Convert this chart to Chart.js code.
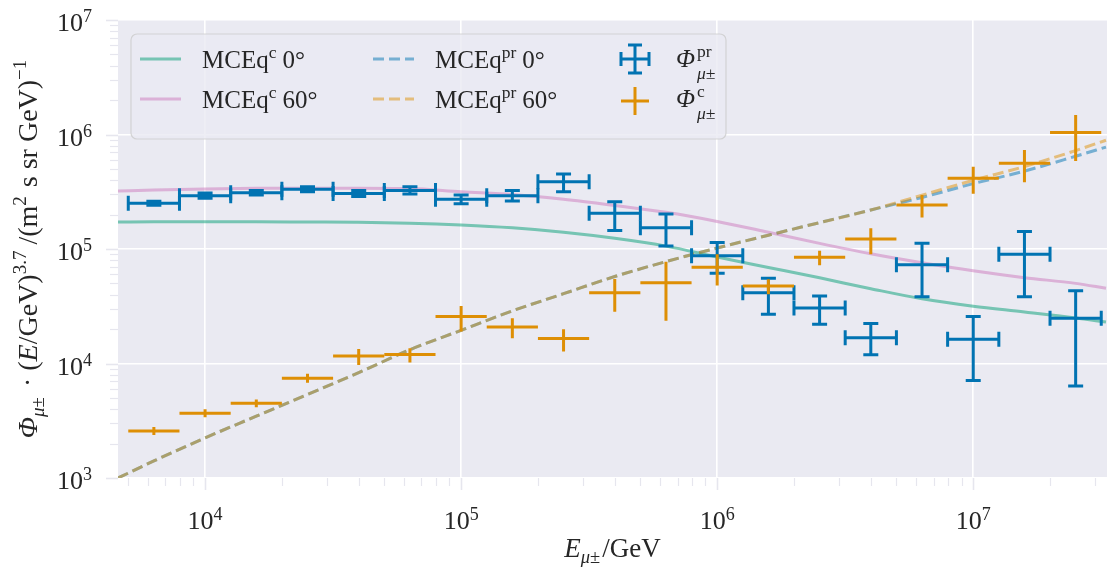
<!DOCTYPE html>
<html>
<head>
<meta charset="utf-8">
<script src="https://cdn.jsdelivr.net/npm/chart.js@4.4.0/dist/chart.umd.min.js"></script>
<style>
    html, body { margin: 0; padding: 0; background: #ffffff; }
</style>
</head>
<body>
<canvas id="chart" width="1107" height="571"></canvas>
<script>
// model curves, sampled every 0.2 decades
const energyGrid = [4570, 6310, 1.0e4, 1.585e4, 2.512e4, 3.981e4, 6.31e4, 1.0e5, 1.585e5, 2.512e5, 3.981e5,
    6.31e5, 1.0e6, 1.585e6, 2.512e6, 3.981e6, 6.31e6, 1.0e7, 1.585e7, 2.512e7, 3.3e7];
const mceqConv0 = [1.72e5, 1.73e5, 1.73e5, 1.73e5, 1.72e5, 1.71e5, 1.68e5, 1.62e5, 1.53e5, 1.40e5, 1.24e5,
    1.06e5, 8.5e4, 6.9e4, 5.6e4, 4.5e4, 3.67e4, 3.16e4, 2.82e4, 2.5e4, 2.3e4];
const mceqConv60 = [3.21e5, 3.27e5, 3.35e5, 3.39e5, 3.40e5, 3.40e5, 3.37e5, 3.16e5, 2.99e5, 2.72e5, 2.40e5,
    2.09e5, 1.74e5, 1.40e5, 1.12e5, 9.1e4, 7.6e4, 6.46e4, 5.62e4, 5.01e4, 4.54e4];
const mceqPrompt0 = [1.0e3, 1.41e3, 2.24e3, 3.47e3, 5.37e3, 8.32e3, 1.32e4, 1.95e4, 2.88e4, 4.07e4, 5.75e4,
    7.76e4, 1.02e5, 1.32e5, 1.70e5, 2.19e5, 2.82e5, 3.72e5, 4.79e5, 6.46e5, 7.76e5];
const mceqPrompt60 = [1.0e3, 1.41e3, 2.24e3, 3.47e3, 5.37e3, 8.32e3, 1.32e4, 1.95e4, 2.88e4, 4.07e4, 5.75e4,
    7.76e4, 1.02e5, 1.32e5, 1.70e5, 2.19e5, 2.95e5, 3.98e5, 5.25e5, 7.24e5, 8.91e5];

// unfolded data, 5 bins per decade
const binCenters = [6310, 1.0e4, 1.585e4, 2.512e4, 3.981e4, 6.31e4, 1.0e5, 1.585e5, 2.512e5, 3.981e5, 6.31e5,
    1.0e6, 1.585e6, 2.512e6, 3.981e6, 6.31e6, 1.0e7, 1.585e7, 2.512e7];
const binEdges = [5012, 7943, 1.259e4, 1.995e4, 3.162e4, 5.012e4, 7.943e4, 1.259e5, 1.995e5, 3.162e5, 5.012e5,
    7.943e5, 1.259e6, 1.995e6, 3.162e6, 5.012e6, 7.943e6, 1.259e7, 1.995e7, 3.162e7];

const promptFlux = [2.51e5, 2.92e5, 3.10e5, 3.32e5, 3.06e5, 3.25e5, 2.72e5, 2.92e5, 3.87e5, 2.05e5, 1.53e5,
    8.75e4, 4.15e4, 3.05e4, 1.68e4, 7.3e4, 1.63e4, 9.0e4, 2.48e4];
const promptLow = [2.41e5, 2.78e5, 2.96e5, 3.16e5, 2.88e5, 3.02e5, 2.49e5, 2.63e5, 3.16e5, 1.45e5, 1.06e5,
    6.14e4, 2.69e4, 2.2e4, 1.19e4, 3.83e4, 7.1e3, 3.83e4, 6.36e3];
const promptHigh = [2.61e5, 3.08e5, 3.25e5, 3.49e5, 3.25e5, 3.50e5, 2.96e5, 3.25e5, 4.52e5, 2.59e5, 2.02e5,
    1.14e5, 5.54e4, 3.89e4, 2.24e4, 1.12e5, 2.57e4, 1.42e5, 4.32e4];

const convFlux = [2.57e3, 3.67e3, 4.49e3, 7.43e3, 1.16e4, 1.2e4, 2.57e4, 2.08e4, 1.65e4, 4.15e4, 5.08e4,
    6.92e4, 4.75e4, 8.46e4, 1.22e5, 2.42e5, 4.14e5, 5.6e5, 1.04e6];
const convLow = [2.37e3, 3.39e3, 4.14e3, 6.79e3, 9.7e3, 1.02e4, 1.9e4, 1.66e4, 1.27e4, 2.83e4, 2.36e4,
    4.79e4, 4.02e4, 7.2e4, 9.0e4, 1.88e5, 3.04e5, 3.83e5, 5.88e5];
const convHigh = [2.79e3, 3.98e3, 4.86e3, 8.13e3, 1.34e4, 1.36e4, 3.18e4, 2.48e4, 1.99e4, 5.47e4, 7.74e4,
    9.0e4, 5.44e4, 9.66e4, 1.52e5, 2.96e5, 5.24e5, 7.33e5, 1.48e6];

const xTicks = [1e4, 1e5, 1e6, 1e7];
const yTicks = [1e3, 1e4, 1e5, 1e6, 1e7];

const FONT = '"Liberation Serif", "Times New Roman", serif';
const TEXT = '#262626';

function curve(values, color, dash, order) {
    return {
        data: energyGrid.map((e, i) => ({ x: e, y: values[i] })),
        showLine: true,
        borderColor: color,
        borderWidth: 3,
        borderDash: dash,
        pointRadius: 0,
        cubicInterpolationMode: 'monotone',
        order: order
    };
}

function points(flux, low, high, color, cap) {
    return {
        data: binCenters.map((e, i) => ({
            x: e, y: flux[i], xMin: binEdges[i], xMax: binEdges[i + 1], yMin: low[i], yMax: high[i]
        })),
        showLine: false,
        pointRadius: 0,
        errorColor: color,
        capSize: cap,
        order: 0
    };
}

// draws text pieces with sub/superscripts, returns width
function richText(ctx, parts, x, y, align) {
    let width = 0;
    const widths = parts.map(p => {
        let w;
        if (p.stack) {
            w = Math.max(...p.stack.map(s => { ctx.font = fontOf(s); return ctx.measureText(s.t).width; }));
        } else {
            ctx.font = fontOf(p);
            w = ctx.measureText(p.t).width + (p.gap || 0);
        }
        width += w;
        return w;
    });
    let cx = align === 'center' ? x - width / 2 : align === 'right' ? x - width : x;
    parts.forEach((p, i) => {
        (p.stack || [p]).forEach(s => {
            ctx.font = fontOf(s);
            ctx.fillText(s.t, cx, y + (s.dy || 0));
        });
        cx += widths[i];
    });
    return width;
}

function fontOf(p) {
    return (p.italic ? 'italic ' : '') + (p.size || 25) + 'px ' + FONT;
}

function tenPower(exp) {
    return [{ t: '10', size: 26 }, { t: String(exp), size: 18, dy: -9 }];
}

const plotBackground = {
    id: 'plotBackground',
    beforeDraw(chart) {
        const { ctx, chartArea } = chart;
        ctx.save();
        ctx.fillStyle = '#eaeaf2';
        ctx.fillRect(chartArea.left, chartArea.top, chartArea.right - chartArea.left, chartArea.bottom - chartArea.top);
        ctx.restore();
    }
};

const errorBars = {
    id: 'errorBars',
    afterDatasetsDraw(chart) {
        const { ctx, chartArea } = chart;
        const xs = chart.scales.x, ys = chart.scales.y;
        ctx.save();
        ctx.beginPath();
        ctx.rect(chartArea.left, chartArea.top, chartArea.right - chartArea.left, chartArea.bottom - chartArea.top);
        ctx.clip();
        ctx.lineWidth = 3;
        ctx.lineCap = 'butt';
        chart.data.datasets.forEach(ds => {
            if (!ds.errorColor) return;
            ctx.strokeStyle = ds.errorColor;
            ds.data.forEach(d => {
                const px = xs.getPixelForValue(d.x), py = ys.getPixelForValue(d.y);
                const x0 = xs.getPixelForValue(d.xMin), x1 = xs.getPixelForValue(d.xMax);
                const y0 = ys.getPixelForValue(d.yMin), y1 = ys.getPixelForValue(d.yMax);
                const c = ds.capSize;
                ctx.beginPath();
                ctx.moveTo(x0, py); ctx.lineTo(x1, py);
                ctx.moveTo(px, y0); ctx.lineTo(px, y1);
                if (c > 0) {
                    ctx.moveTo(x0, py - c); ctx.lineTo(x0, py + c);
                    ctx.moveTo(x1, py - c); ctx.lineTo(x1, py + c);
                    ctx.moveTo(px - c, y0); ctx.lineTo(px + c, y0);
                    ctx.moveTo(px - c, y1); ctx.lineTo(px + c, y1);
                }
                ctx.stroke();
            });
        });
        ctx.restore();
    }
};

const axesText = {
    id: 'axesText',
    afterDraw(chart) {
        const { ctx, chartArea } = chart;
        const xs = chart.scales.x, ys = chart.scales.y;
        ctx.save();

        // faint outward tick marks
        ctx.strokeStyle = '#e6e6ee';
        for (let d = 3; d <= 7; d++) {
            for (let m = 1; m <= 9; m++) {
                const v = m * Math.pow(10, d);
                const len = m === 1 ? 12 : 8;
                ctx.lineWidth = m === 1 ? 1.6 : 1.2;
                if (v >= ys.min && v <= ys.max) {
                    const py = Math.round(ys.getPixelForValue(v)) + 0.5;
                    ctx.beginPath(); ctx.moveTo(chartArea.left - len, py); ctx.lineTo(chartArea.left, py); ctx.stroke();
                }
                if (v >= xs.min && v <= xs.max) {
                    const px = Math.round(xs.getPixelForValue(v)) + 0.5;
                    ctx.beginPath(); ctx.moveTo(px, chartArea.bottom); ctx.lineTo(px, chartArea.bottom + len); ctx.stroke();
                }
            }
        }

        ctx.fillStyle = TEXT;
        ctx.textBaseline = 'alphabetic';
        yTicks.forEach(v => {
            richText(ctx, tenPower(Math.round(Math.log10(v))), 92, ys.getPixelForValue(v) + 11, 'right');
        });
        xTicks.forEach(v => {
            richText(ctx, tenPower(Math.round(Math.log10(v))), xs.getPixelForValue(v), 529, 'center');
        });

        // x axis title
        richText(ctx, [
            { t: 'E', italic: true, size: 27 },
            { t: 'μ', italic: true, size: 18.5, dy: 6 },
            { t: '±', size: 18.5, dy: 6, gap: 2 },
            { t: '/GeV', size: 27 }
        ], (chartArea.left + chartArea.right) / 2, 557, 'center');

        // y axis title
        ctx.save();
        ctx.translate(37, (chartArea.top + chartArea.bottom) / 2);
        ctx.rotate(-Math.PI / 2);
        richText(ctx, [
            { t: 'Φ', italic: true, size: 28 },
            { t: 'μ', italic: true, size: 19, dy: 7 },
            { t: '±', size: 19, dy: 7, gap: 3 },
            { t: ' · (', size: 28 },
            { t: 'E', italic: true, size: 28 },
            { t: '/GeV)', size: 28 },
            { t: '3.7', size: 19, dy: -11, gap: 6 },
            { t: '/(m', size: 28 },
            { t: '2', size: 19, dy: -11, gap: 2 },
            { t: ' s sr GeV)', size: 28 },
            { t: '−1', size: 19, dy: -11 }
        ], 0, 0, 'center');
        ctx.restore();

        ctx.restore();
    }
};

const legendBox = {
    id: 'legendBox',
    afterDraw(chart) {
        const { ctx } = chart;
        ctx.save();
        ctx.beginPath();
        ctx.roundRect(131, 34, 595, 105, 6);
        ctx.fillStyle = 'rgba(234,234,242,0.8)';
        ctx.fill();
        ctx.strokeStyle = 'rgba(204,204,204,0.8)';
        ctx.lineWidth = 1.2;
        ctx.stroke();

        const rows = [59, 99];
        const lineEntries = [
            { x: 140, row: 0, color: 'rgba(2,158,115,0.5)', dash: [], label: [{ t: 'MCEq' }, { t: 'c', size: 17.5, dy: -10, gap: 6 }, { t: '0°' }] },
            { x: 140, row: 1, color: 'rgba(204,120,188,0.5)', dash: [], label: [{ t: 'MCEq' }, { t: 'c', size: 17.5, dy: -10, gap: 6 }, { t: '60°' }] },
            { x: 373, row: 0, color: 'rgba(1,115,178,0.5)', dash: [11, 5], label: [{ t: 'MCEq' }, { t: 'pr', size: 17.5, dy: -10, gap: 6 }, { t: '0°' }] },
            { x: 373, row: 1, color: 'rgba(222,143,5,0.5)', dash: [11, 5], label: [{ t: 'MCEq' }, { t: 'pr', size: 17.5, dy: -10, gap: 6 }, { t: '60°' }] }
        ];
        ctx.lineWidth = 3;
        lineEntries.forEach(e => {
            const y = rows[e.row];
            ctx.strokeStyle = e.color;
            ctx.setLineDash(e.dash);
            ctx.beginPath(); ctx.moveTo(e.x, y); ctx.lineTo(e.x + 41, y); ctx.stroke();
            ctx.setLineDash([]);
            ctx.fillStyle = TEXT;
            richText(ctx, e.label, e.x + 62, y + 9, 'left');
        });

        // error bar handles
        ctx.lineWidth = 3;
        const cx = 635;
        ctx.strokeStyle = '#0173b2';
        ctx.beginPath();
        ctx.moveTo(cx - 14, rows[0]); ctx.lineTo(cx + 14, rows[0]);
        ctx.moveTo(cx, rows[0] - 14); ctx.lineTo(cx, rows[0] + 14);
        ctx.moveTo(cx - 14, rows[0] - 7); ctx.lineTo(cx - 14, rows[0] + 7);
        ctx.moveTo(cx + 14, rows[0] - 7); ctx.lineTo(cx + 14, rows[0] + 7);
        ctx.moveTo(cx - 7, rows[0] - 14); ctx.lineTo(cx + 7, rows[0] - 14);
        ctx.moveTo(cx - 7, rows[0] + 14); ctx.lineTo(cx + 7, rows[0] + 14);
        ctx.stroke();
        ctx.strokeStyle = '#de8f05';
        ctx.beginPath();
        ctx.moveTo(cx - 14, rows[1] + 2); ctx.lineTo(cx + 14, rows[1] + 2);
        ctx.moveTo(cx, rows[1] - 12); ctx.lineTo(cx, rows[1] + 16);
        ctx.stroke();

        ctx.fillStyle = TEXT;
        richText(ctx, [{ t: 'Φ', italic: true, gap: 2 }, { stack: [
            { t: 'pr', size: 17.5, dy: -10 }, { t: 'μ±', italic: true, size: 17.5, dy: 12 }] }], 676, rows[0] + 8, 'left');
        richText(ctx, [{ t: 'Φ', italic: true, gap: 2 }, { stack: [
            { t: 'c', size: 17.5, dy: -10 }, { t: 'μ±', italic: true, size: 17.5, dy: 12 }] }], 676, rows[1] + 8, 'left');
        ctx.restore();
    }
};

new Chart(document.getElementById('chart'), {
    type: 'scatter',
    data: {
        datasets: [
            curve(mceqConv0, 'rgba(2,158,115,0.5)', [], 4),
            curve(mceqConv60, 'rgba(204,120,188,0.5)', [], 3),
            curve(mceqPrompt0, 'rgba(1,115,178,0.5)', [11, 5], 2),
            curve(mceqPrompt60, 'rgba(222,143,5,0.5)', [11, 5], 1),
            points(promptFlux, promptLow, promptHigh, '#0173b2', 7.5),
            points(convFlux, convLow, convHigh, '#de8f05', 0)
        ]
    },
    options: {
        responsive: false,
        animation: false,
        layout: { padding: { left: 118, top: 20, right: 0, bottom: 93 } },
        plugins: {
            legend: { display: false },
            tooltip: { enabled: false }
        },
        scales: {
            x: {
                type: 'logarithmic',
                min: 4570,
                max: 3.33e7,
                afterBuildTicks: axis => { axis.ticks = xTicks.map(v => ({ value: v })); },
                ticks: { display: false },
                grid: { color: '#ffffff', lineWidth: 1.6, drawTicks: false },
                border: { display: false }
            },
            y: {
                type: 'logarithmic',
                min: 1e3,
                max: 1e7,
                afterBuildTicks: axis => { axis.ticks = yTicks.map(v => ({ value: v })); },
                ticks: { display: false },
                grid: { color: '#ffffff', lineWidth: 1.6, drawTicks: false },
                border: { display: false }
            }
        }
    },
    plugins: [plotBackground, errorBars, axesText, legendBox]
});
</script>
</body>
</html>
